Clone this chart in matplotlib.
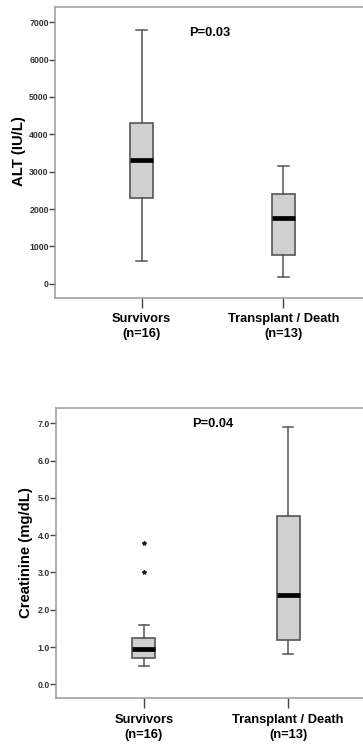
import matplotlib.pyplot as plt

plt.rcParams["font.family"] = ["Liberation Sans", "DejaVu Sans"]

GROUPS = ["Survivors\n(n=16)", "Transplant / Death\n(n=13)"]

# ALT (IU/L): whisker low, Q1, median, Q3, whisker high
ALT_LOW = [600, 170]
ALT_Q1 = [2300, 760]
ALT_MED = [3300, 1750]
ALT_Q3 = [4300, 2400]
ALT_HIGH = [6800, 3150]
ALT_OUT = [[], []]

# Creatinine (mg/dL)
CR_LOW = [0.5, 0.8]
CR_Q1 = [0.7, 1.2]
CR_MED = [0.95, 2.4]
CR_Q3 = [1.25, 4.5]
CR_HIGH = [1.6, 6.9]
CR_OUT = [[3.0, 3.8], []]

FRAME = "#9a9a9a"
EDGE = "#555555"
FACE = "#d0d0d0"


def stats(low, q1, med, q3, high, out):
    return [dict(whislo=a, q1=b, med=c, q3=d, whishi=e, fliers=f)
            for a, b, c, d, e, f in zip(low, q1, med, q3, high, out)]


def panel(ax, st, yticks, fmt, ylim, ylabel, ptext, py, label_x):
    ax.bxp(st, positions=[1, 2], widths=0.16, patch_artist=True,
           capwidths=0.075,
           boxprops=dict(facecolor=FACE, edgecolor=EDGE, linewidth=1.2),
           whiskerprops=dict(color=EDGE, linewidth=1.1),
           capprops=dict(color=EDGE, linewidth=1.1),
           medianprops=dict(color="black", linewidth=3.4),
           flierprops=dict(marker="*", markersize=3, markerfacecolor="#222222",
                           markeredgecolor="#222222", linestyle="none"))
    ax.set_xlim(0.39, 2.61)
    ax.set_ylim(*ylim)
    ax.set_yticks(yticks)
    ax.set_yticklabels([fmt.format(v) for v in yticks], fontsize=6.3,
                       fontweight="bold", color="#333333")
    ax.set_xticks([1, 2])
    ax.set_xticklabels(GROUPS, fontsize=9.3, fontweight="bold",
                       linespacing=1.35)
    ax.tick_params(axis="x", length=7.5, width=1, color="#444444", pad=3.5)
    ax.tick_params(axis="y", length=4, width=1, color="#444444", pad=0.5)
    for s in ax.spines.values():
        s.set_color(FRAME)
        s.set_linewidth(1.1)
    ax.set_ylabel(ylabel, fontsize=10.7, fontweight="bold")
    ax.yaxis.set_label_coords(label_x, 0.504)
    ax.text(1.48, py, ptext, ha="center", va="center", fontsize=9.3,
            fontweight="bold")


fig = plt.figure(figsize=(3.63, 7.52), dpi=100)
ax1 = fig.add_axes([55 / 363, 1 - 298 / 752, 315 / 363, 290.7 / 752])
ax2 = fig.add_axes([56 / 363, 1 - 698.3 / 752, 320 / 363, 290 / 752])

panel(ax1, stats(ALT_LOW, ALT_Q1, ALT_MED, ALT_Q3, ALT_HIGH, ALT_OUT),
      list(range(0, 7001, 1000)), "{:d}", (-383, 7402), "ALT (IU/L)",
      "P=0.03", 6714, -0.092)
panel(ax2, stats(CR_LOW, CR_Q1, CR_MED, CR_Q3, CR_HIGH, CR_OUT),
      [0, 1, 2, 3, 4, 5, 6, 7], "{:.1f}", (-0.375, 7.40),
      "Creatinine (mg/dL)", "P=0.04", 6.98, -0.072)

fig.savefig("out.png", dpi=100)
